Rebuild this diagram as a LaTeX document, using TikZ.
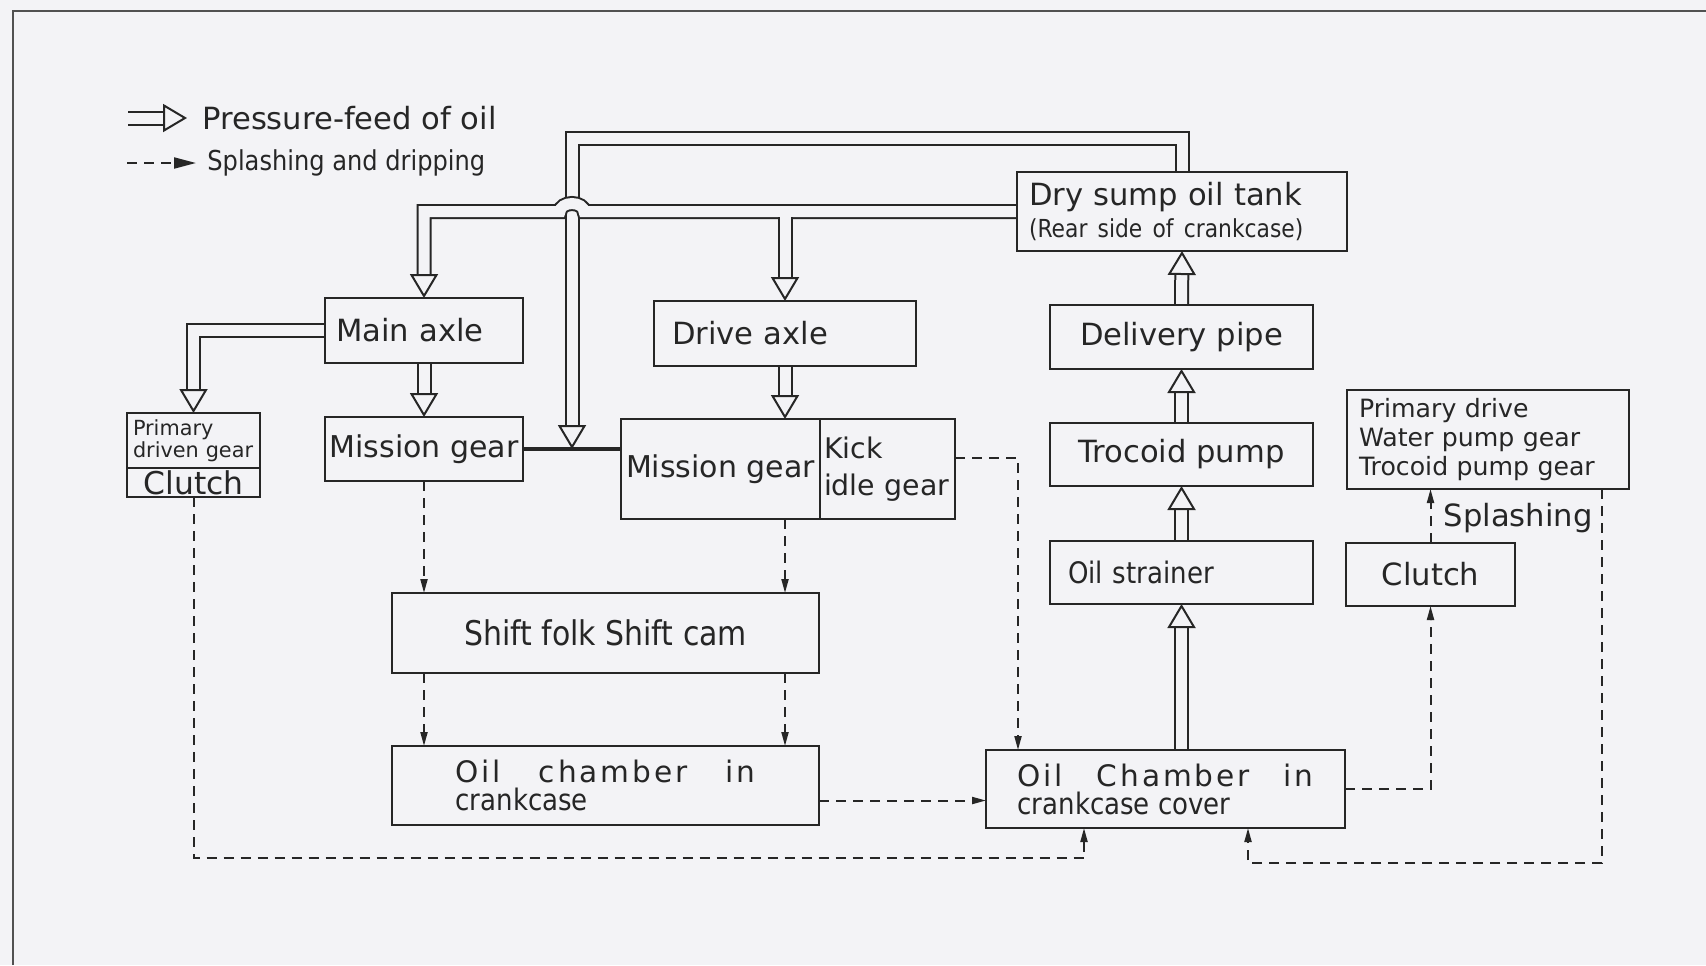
\documentclass[tikz,border=0pt]{standalone}
\usepackage{fontspec}
\setmainfont{DejaVu Sans}
\newfontfamily\condf[FakeStretch=0.88]{DejaVu Sans}
\newfontfamily\spacef[LetterSpace=10]{DejaVu Sans}
\usetikzlibrary{arrows.meta,positioning}
\definecolor{paper}{RGB}{243,243,246}
\definecolor{ink}{RGB}{38,38,38}
\newcommand\fsz[2]{\fontsize{#1}{#2}\selectfont}
\tikzset{
      box/.style={
        draw=ink,
        line width=1.1pt,
        fill=paper,
        text=ink,
        inner sep=0pt,
        outer sep=0pt,
        font=\fsz{15.3}{18}
      },
      lbl/.style={inner sep=0pt, text=ink, font=\fsz{15.3}{18}},
      pipe/.style={
        draw=ink, line width=1pt, double=paper, double distance=5.5pt,
        shorten <=0.55pt,
        -{Triangle[fill=paper, length=12pt, width=14pt, line width=1pt]}
      },
      drip/.style={
        draw=ink, line width=1pt, dash pattern=on 5pt off 3.5pt,
        -{Triangle[length=7pt, width=3.5pt]}
      }
    }

\begin{document}
\begin{tikzpicture}[x=0.5pt,y=-0.5pt]
    \useasboundingbox[fill=paper] (0,0) rectangle (1706,965);
    \draw[ink!80, line width=1pt] (13,965) -- (13,11) -- (1706,11);

    % legend
    \node[lbl, anchor=west] (leg1) at (202,118) {Pressure-feed of oil};
    \node[lbl, anchor=west, font={\condf\fsz{13.7}{16}}] (leg2) at (207,163) {Splashing and dripping};
    \coordinate (lg1) at (127,118);
    \coordinate (lg2) at (127,163);
    \draw[pipe] (lg1) -- ([xshift=-7.5pt]leg1.west);
    \draw[drip, -{Triangle[length=11pt, width=5.5pt]}] (lg2) -- ([xshift=-5.5pt]leg2.west);

    % right column
    \node[box, minimum width=165pt, minimum height=39.5pt, align=left, text width=153pt, inner xsep=6pt] (dry) at (1182,211.5) {Dry sump oil tank\\[-2pt]{\condf\fsz{12.4}{15}(Rear side of crankcase)}};
    \node[box, minimum width=131.5pt, minimum height=32pt] (deliv) at (1181.5,337) {Delivery pipe};
    \node[box, minimum width=131.5pt, minimum height=31.5pt] (troc) at (1181.5,454.5) {Trocoid pump};
    \node[box, minimum width=131.5pt, minimum height=31.5pt, align=left, text width=113.5pt, inner xsep=9pt, font={\condf\fsz{14.8}{17}}] (strain) at (1181.5,572.5) {Oil strainer};
    \node[box, minimum width=141pt, minimum height=49.5pt, align=left, text width=129pt, inner xsep=6pt, font=\fsz{12.6}{14.5}] (prim) at (1488,439.5) {Primary drive\\Water pump gear\\Trocoid pump gear};
    \node[box, minimum width=84.5pt, minimum height=31.5pt] (clutch) at (1430.5,574.5) {Clutch};
    \node[lbl] (splab) at (1518,518) {Splashing};
    \node[box, minimum width=179.5pt, minimum height=39pt, align=left, font=\fsz{14.8}{14}] (cover) at (1165.5,789) {\makebox[148pt][s]{\spacef Oil Chamber in}\\{\condf crankcase cover}};

    % left part
    \node[box, minimum width=99pt, minimum height=32.5pt, align=left, text width=88pt, inner xsep=5.5pt] (main) at (424,330.5) {Main axle};
    \node[box, minimum width=99pt, minimum height=32pt, font=\fsz{15}{18}] (misL) at (424,449) {Mission gear};
    \node[box, minimum width=66.5pt, minimum height=27.5pt, align=left, text width=60.5pt, inner xsep=3pt, font=\fsz{10.4}{11}] (pdg) at (193.5,440.5) {Primary\\driven gear};
    \node[box, minimum width=66.5pt, minimum height=14.5pt, font=\fsz{15.7}{16}, below=0pt of pdg] (pdgc) {Clutch};
    \node[box, minimum width=131pt, minimum height=32.5pt, align=left, text width=113pt, inner xsep=9pt] (drive) at (785,333.5) {Drive axle};
    \node[box, minimum width=99.5pt, minimum height=50pt, font=\fsz{15}{18}] (misR) at (720.5,469) {Mission gear};
    \node[box, minimum width=67.5pt, minimum height=50pt, align=left, text width=63.5pt, inner xsep=2pt, font=\fsz{14.2}{18.5}, right=0pt of misR] (kick) {Kick\\idle gear};
    \node[box, minimum width=213.5pt, minimum height=40pt, font={\condf\fsz{17}{20}}] (shift) at (605.5,633) {Shift folk Shift cam};
    \node[box, minimum width=213.5pt, minimum height=39.5pt, align=left, font=\fsz{14.8}{14}] (crank) at (605.5,785.5) {\makebox[150pt][s]{\spacef Oil chamber in}\\{\condf crankcase}};

    % pressure feed
    \coordinate (jn) at (572,449);
    \draw[ink, line width=2pt] (misL.east) -- (misL.east -| misR.west);
    \draw[pipe] (dry.north) -- ++(0,-34) -| (jn);
    \draw[pipe] (dry.west) -- ([xshift=6pt]jn |- dry.west) arc[start angle=0, end angle=180, x radius=6pt, y radius=4pt] -| (main.north);
    \draw[pipe] ([yshift=-2.2pt]drive.north |- dry.west) -- (drive.north);
    \draw[pipe] (main.west) -| (pdg.north);
    \draw[pipe] (main.south) -- (misL.north);
    \draw[pipe] (drive.south) -- (drive.south |- misR.north);
    \draw[pipe] (deliv.north) -- (dry.south);
    \draw[pipe] (troc.north) -- (deliv.south);
    \draw[pipe] (strain.north) -- (troc.south);
    \draw[pipe] (cover.north -| strain.south) -- (strain.south);

    % splashing and dripping
    \coordinate (lowA) at (1084,858);
    \coordinate (lowB) at (1248,863);
    \draw[drip] (misL.south) -- (misL.south |- shift.north);
    \draw[drip] (drive.south |- misR.south) -- (drive.south |- shift.north);
    \draw[drip] (misL.south |- shift.south) -- (misL.south |- crank.north);
    \draw[drip] (drive.south |- shift.south) -- (drive.south |- crank.north);
    \draw[drip] ([yshift=-7.5pt]crank.east) -- ([yshift=-7.5pt]crank.east -| cover.west);
    \draw[drip] ([yshift=5.5pt]kick.east) -| ([xshift=16pt]cover.north west);
    \draw[drip] (pdgc.south) |- (lowA) -- (lowA |- cover.south);
    \draw[drip] ([xshift=-13.5pt]prim.south east) |- (lowB) -- (lowB |- cover.south);
    \draw[drip] (cover.east) -| (clutch.south);
    \draw[drip] (clutch.north) -- (clutch.north |- prim.south);
\end{tikzpicture}
\end{document}
